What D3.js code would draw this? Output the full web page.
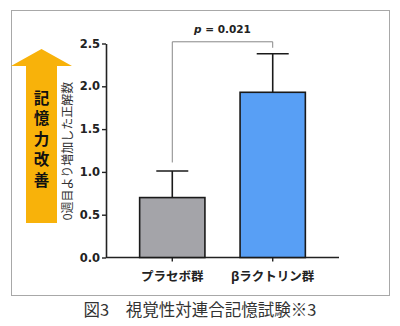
<!DOCTYPE html>
<html>
<head>
<meta charset="utf-8">
<script src="https://cdn.jsdelivr.net/npm/d3@7"></script>
<style>
  html, body { margin: 0; padding: 0; background: #fff; }
  svg { display: block; }
</style>
</head>
<body>
<div id="chart"></div>
<script>
// data
var groups = ['プラセボ群', 'βラクトリン群'];
var means = [0.70, 1.93];
var errs = [0.31, 0.45];
var barColors = ['#a4a4a9', '#589ff5'];
var yTicks = [0.0, 0.5, 1.0, 1.5, 2.0, 2.5];
var pLabel = '0.021';
var yLabel = '0週目より増加した正解数';
var arrowText = '記憶力改善';
var caption = '図3　視覚性対連合記憶試験※3';

var W = 400, H = 326;
var svg = d3.select('#chart').append('svg')
	.attr('width', W).attr('height', H);

// outer frame
svg.append('rect')
	.attr('x', 11.5).attr('y', 10.5)
	.attr('width', 378).attr('height', 285)
	.attr('fill', 'none')
	.attr('stroke', '#a8a8a8')
	.attr('stroke-width', 1);

var plot = { left: 106, right: 339, top: 43.5, bottom: 257.5 };

var y = d3.scaleLinear().domain([0, 2.5]).range([plot.bottom, plot.top]);
var x = d3.scaleBand().domain(groups)
	.range([plot.left, plot.right])
	.paddingInner(0.35).paddingOuter(0.335);

var font = "'Open Sans', 'Noto Sans CJK JP', sans-serif";

// y axis
var yAxis = d3.axisLeft(y).tickValues(yTicks).tickFormat(d3.format('.1f'))
	.tickSize(4).tickSizeOuter(0);
var gy = svg.append('g')
	.attr('transform', 'translate(' + plot.left + ',0)')
	.call(yAxis);
gy.select('.domain').attr('stroke', '#222').attr('stroke-width', 1.6);
gy.selectAll('.tick line').attr('stroke', '#222').attr('stroke-width', 1.4);
gy.selectAll('.tick text')
	.attr('x', -6)
	.attr('fill', '#222')
	.style('font-family', "Verdana, 'DejaVu Sans', sans-serif")
	.style('font-weight', 'bold')
	.style('font-size', '11.5px');

// x axis
var xAxis = d3.axisBottom(x).tickSize(4).tickSizeOuter(0).tickFormat('');
var gx = svg.append('g')
	.attr('transform', 'translate(0,' + plot.bottom + ')')
	.call(xAxis);
gx.select('.domain').attr('stroke', '#222').attr('stroke-width', 1.6)
	.attr('d', 'M' + plot.left + ',0H' + plot.right);
gx.selectAll('.tick line').attr('stroke', '#222').attr('stroke-width', 1.4);

// category labels
svg.selectAll('text.cat').data(groups).enter()
	.append('text').attr('class', 'cat')
	.attr('x', function (d) { return x(d) + x.bandwidth() / 2; })
	.attr('y', 281)
	.attr('text-anchor', 'middle')
	.attr('fill', '#222')
	.style('font-family', font)
	.style('font-weight', 'bold')
	.style('font-size', '12.5px')
	.text(function (d) { return d; });

// error bars (drawn first so bars cover the stem)
var eb = svg.selectAll('g.err').data(groups).enter().append('g').attr('class', 'err');
eb.append('line')
	.attr('x1', function (d) { return x(d) + x.bandwidth() / 2; })
	.attr('x2', function (d) { return x(d) + x.bandwidth() / 2; })
	.attr('y1', function (d, i) { return y(means[i]); })
	.attr('y2', function (d, i) { return y(means[i] + errs[i]); })
	.attr('stroke', '#1a1a1a').attr('stroke-width', 1.6);
eb.append('line')
	.attr('x1', function (d) { return x(d) + x.bandwidth() / 2 - 16; })
	.attr('x2', function (d) { return x(d) + x.bandwidth() / 2 + 16; })
	.attr('y1', function (d, i) { return y(means[i] + errs[i]); })
	.attr('y2', function (d, i) { return y(means[i] + errs[i]); })
	.attr('stroke', '#1a1a1a').attr('stroke-width', 1.6);

// bars
svg.selectAll('rect.bar').data(groups).enter()
	.append('rect').attr('class', 'bar')
	.attr('x', function (d) { return x(d); })
	.attr('width', x.bandwidth())
	.attr('y', function (d, i) { return y(means[i]); })
	.attr('height', function (d, i) { return plot.bottom - y(means[i]); })
	.attr('fill', function (d, i) { return barColors[i]; })
	.attr('stroke', '#1a1a1a')
	.attr('stroke-width', 1.6);

// significance bracket
var cx0 = x(groups[0]) + x.bandwidth() / 2;
var cx1 = x(groups[1]) + x.bandwidth() / 2;
var bracketY = y(2.52);
svg.append('path')
	.attr('d', 'M' + cx0 + ',' + y(1.11) + 'V' + bracketY + 'H' + cx1 + 'V' + y(2.45))
	.attr('fill', 'none')
	.attr('stroke', '#888')
	.attr('stroke-width', 1);

var pt = svg.append('text')
	.attr('x', (cx0 + cx1) / 2)
	.attr('y', 33)
	.attr('text-anchor', 'middle')
	.attr('fill', '#222')
	.style('font-family', "Verdana, 'DejaVu Sans', sans-serif")
	.style('font-weight', 'bold')
	.style('font-size', '10.5px');
pt.append('tspan').style('font-style', 'italic').text('p');
pt.append('tspan').text(' = ' + pLabel);

// y axis title
svg.append('text')
	.attr('transform', 'translate(72,151) rotate(-90)')
	.attr('text-anchor', 'middle')
	.attr('fill', '#333')
	.style('font-family', font)
	.style('font-size', '12px')
	.text(yLabel);

// "memory improvement" arrow
var ax = 41.5;
svg.append('path')
	.attr('d', 'M' + (ax - 15.5) + ',223V66H11L' + ax + ',49L72,66H' + (ax + 15.5) + 'V223Z')
	.attr('fill', '#f8b20a');
svg.append('text')
	.attr('x', ax)
	.attr('y', 141.5)
	.attr('text-anchor', 'middle')
	.attr('fill', '#111')
	.style('writing-mode', 'vertical-rl')
	.style('letter-spacing', '5px')
	.style('font-family', "'Noto Sans CJK JP', sans-serif")
	.style('font-weight', 'bold')
	.style('font-size', '15.5px')
	.text(arrowText);

// caption
svg.append('text')
	.attr('x', 200)
	.attr('y', 316)
	.attr('text-anchor', 'middle')
	.attr('fill', '#333')
	.style('font-family', "'Noto Sans CJK JP', sans-serif")
	.style('font-size', '16.5px')
	.text(caption);
</script>
</body>
</html>
